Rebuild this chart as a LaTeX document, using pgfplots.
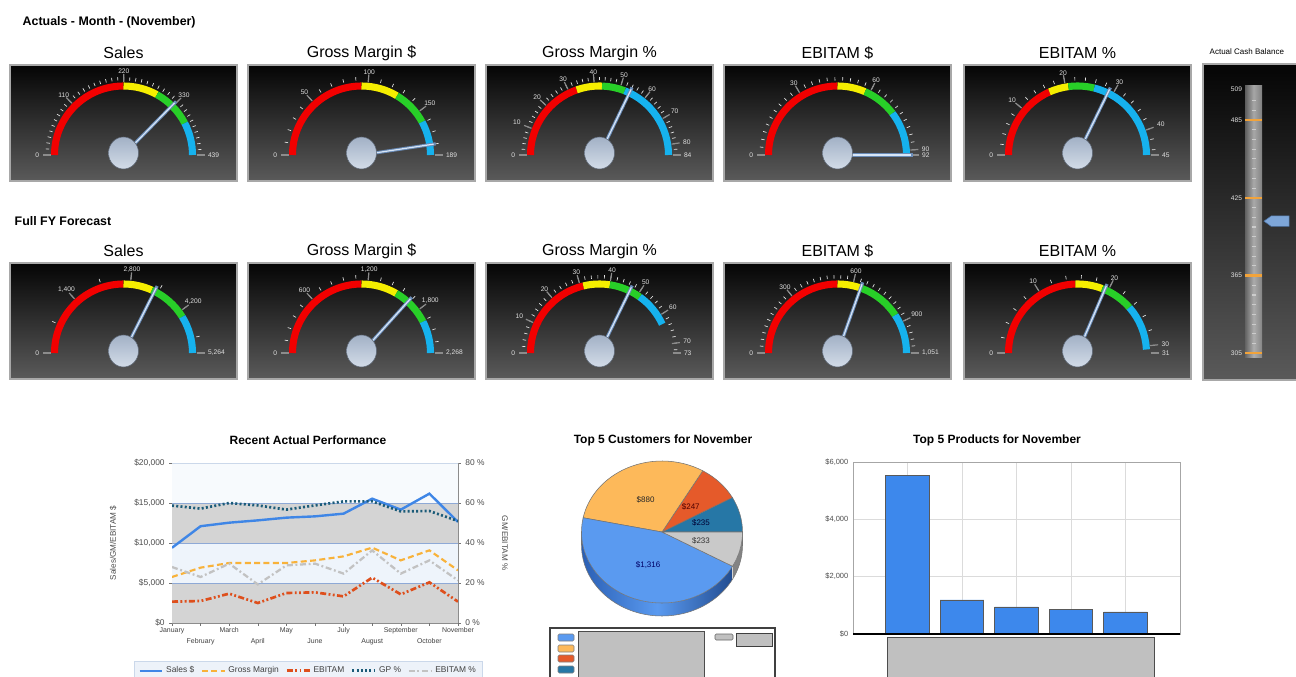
\documentclass[border=0pt]{standalone}
\usepackage{pgfplots}
\pgfplotsset{compat=1.18}
\usepackage{pgfplotstable}
\usepackage{fontspec}
\setmainfont{Liberation Sans}

\definecolor{panelTop}{HTML}{050505}
\definecolor{panelBot}{HTML}{5A5A5A}
\definecolor{panelEdge}{HTML}{A8A8A8}
\definecolor{gRed}{HTML}{F20000}
\definecolor{gYellow}{HTML}{F5EE00}
\definecolor{gGreen}{HTML}{28CF28}
\definecolor{gCyan}{HTML}{16B2EE}
\definecolor{tickGrey}{HTML}{8C8C8C}
\definecolor{needleEdge}{HTML}{6A8CB8}
\definecolor{needleCore}{HTML}{D8E6F7}
\definecolor{hubTop}{HTML}{A2B1C6}
\definecolor{hubBot}{HTML}{D3DCE8}
\definecolor{hubEdge}{HTML}{5E6877}
\definecolor{salesBlue}{HTML}{3F86E6}
\definecolor{gmOrange}{HTML}{F8B23A}
\definecolor{ebRed}{HTML}{DE4F1C}
\definecolor{gpTeal}{HTML}{1B5B78}
\definecolor{ebGrey}{HTML}{C2C2C2}
\definecolor{bandGrey}{HTML}{D4D4D4}
\definecolor{bandLight}{HTML}{EEF4FB}
\definecolor{bandTop}{HTML}{F7FAFD}
\definecolor{gridBlue}{HTML}{8EA9D6}
\definecolor{legFill}{HTML}{EDF2F9}
\definecolor{legDraw}{HTML}{CBD8EA}
\definecolor{barBlue}{HTML}{3D88EC}
\definecolor{pieBlue}{HTML}{5A9AF0}
\definecolor{pieBlueDark}{HTML}{2A5FB4}
\definecolor{pieOrange}{HTML}{FDB95A}
\definecolor{pieRed}{HTML}{E55A2A}
\definecolor{pieTeal}{HTML}{2677A6}
\definecolor{pieGrey}{HTML}{C9C9C9}
\definecolor{boxGrey}{HTML}{C0C0C0}
\definecolor{cashOrange}{HTML}{F2A33A}
\definecolor{ptrBlue}{HTML}{7EA6D8}
\definecolor{ptrEdge}{HTML}{4A6FA0}

\tikzset{
  salesstyle/.style={salesBlue, line width=1.8pt},
  gmstyle/.style={gmOrange, line width=1.6pt, dash pattern=on 4.5pt off 2.5pt},
  ebstyle/.style={ebRed, line width=2pt, dash pattern=on 4.5pt off 1.8pt on 1.4pt off 1.8pt on 1.4pt off 1.8pt},
  gpstyle/.style={gpTeal, line width=2pt, dash pattern=on 1.5pt off 1.7pt},
  ebpstyle/.style={ebGrey, line width=1.7pt, dash pattern=on 4.5pt off 2pt on 1.4pt off 2pt},
}

\pgfdeclareplotmark{cashptr}{%
  \pgfpathmoveto{\pgfqpoint{-9.4pt}{0pt}}%
  \pgfpathlineto{\pgfqpoint{-4pt}{3.9pt}}%
  \pgfpathlineto{\pgfqpoint{9.4pt}{3.9pt}}%
  \pgfpathlineto{\pgfqpoint{9.4pt}{-3.9pt}}%
  \pgfpathlineto{\pgfqpoint{-4pt}{-3.9pt}}%
  \pgfpathclose
  \pgfusepathqfillstroke}

\newcommand{\gaugefont}{\fontsize{5}{5}\selectfont}

% panel, colour bands and minor ticks
% #1 left #2 top #3 max #4 red end #5 yellow end #6 green end #7 arc end #8 minor step #9 last tick
\newcommand{\gaugebase}[9]{%
  \pgfmathsetmacro\gcx{#1+113.5}\pgfmathsetmacro\gcy{#2+90}%
  \shade[top color=panelTop, bottom color=panelBot] (#1,#2) rectangle ++(227,116);
  \draw[panelEdge, line width=1.3pt] (#1,#2) rectangle ++(227,116);
  \begin{scope}[shift={(\gcx,\gcy)}, y=0.75pt]
    \pgfmathsetmacro\aR{180-#4/#3*180}%
    \pgfmathsetmacro\aY{180-#5/#3*180}%
    \pgfmathsetmacro\aG{180-#6/#3*180}%
    \pgfmathsetmacro\aC{180-#7/#3*180}%
    \draw[gRed, line width=5.3pt] (180:69) arc[start angle=180, end angle=\aR, radius=69];
    \draw[gYellow, line width=5.3pt] (\aR:69) arc[start angle=\aR, end angle=\aY, radius=69];
    \draw[gGreen, line width=5.3pt] (\aY:69) arc[start angle=\aY, end angle=\aG, radius=69];
    \draw[gCyan, line width=5.3pt] (\aG:69) arc[start angle=\aG, end angle=\aC, radius=69];
    \foreach \v in {0,#8,...,#9}{%
      \pgfmathsetmacro\ta{180-\v/#3*180}%
      \draw[white!90!black, line width=0.5pt] (\ta:74.5) -- (\ta:78);}
  \end{scope}}

% labels, title, needle (data) and hub
% #1 left #2 top #3 max #4 needle value #5 labels #6 title
\newcommand{\gaugetop}[6]{%
  \pgfmathsetmacro\gcx{#1+113.5}\pgfmathsetmacro\gcy{#2+90}%
  \pgfmathsetmacro\gax{(#1+113.5)*0.75}\pgfmathsetmacro\gay{-(#2+90)*0.75}%
  \node[font=\fontsize{12}{14}\selectfont] at ({#1+113.5},{#2-12}) {#6};
  \begin{scope}[shift={(\gcx,\gcy)}, y=0.75pt]
    \foreach \v/\t in {#5}{%
      \pgfmathsetmacro\ta{180-\v/#3*180}%
      \pgfmathtruncatemacro\an{mod(360-\v/#3*180,360)}%
      \draw[tickGrey, line width=0.9pt] (\ta:73) -- (\ta:81);
      \node[anchor=\an, inner xsep=3.2pt, inner ysep=0.6pt, font=\gaugefont, text=white!88!black] at (\ta:80) {\t};}
  \end{scope}
  \begin{axis}[at={(\gax pt,\gay pt)}, anchor=center, x=0.75pt, y=0.75pt,
      xmin=-100, xmax=100, ymin=-100, ymax=100, hide axis, clip=false]
    \addplot[needleEdge, line width=2.4pt] table[row sep=\\,
      x expr={\thisrow{r}*cos(180-\thisrow{v}/#3*180)},
      y expr={\thisrow{r}*sin(180-\thisrow{v}/#3*180)}] {v r\\ #4 0\\ #4 75\\};
    \addplot[needleCore, line width=0.9pt] table[row sep=\\,
      x expr={\thisrow{r}*cos(180-\thisrow{v}/#3*180)},
      y expr={\thisrow{r}*sin(180-\thisrow{v}/#3*180)}] {v r\\ #4 0\\ #4 73\\};
  \end{axis}
  \shade[top color=hubTop, bottom color=hubBot, draw=hubEdge, line width=0.4pt]
    (\gcx,{\gcy-2}) ellipse [x radius=15, y radius=16];
}

\pgfplotstableread{
m sales gm eb gp ebp
0 9400 5750 2670 58.7 28.0
1 12100 6920 2750 57.2 23.0
2 12540 7500 3670 60.0 29.7
3 12830 7500 2500 58.8 19.3
4 13170 7500 3750 56.7 28.8
5 13330 7830 3830 58.8 29.7
6 13670 8330 3330 60.8 24.7
7 15540 9420 5670 60.8 36.3
8 14170 7830 3580 55.8 24.7
9 16170 9080 5080 56.0 31.3
10 12630 6580 2670 51.0 21.3
}\perfdata

\begin{document}
\begin{tikzpicture}[x=0.75pt, y=-0.75pt]
\useasboundingbox (0,0) rectangle (1296,677);
\clip (0,0) rectangle (1296,677);
\fill[white] (0,0) rectangle (1296,677);

% section headings
\node[anchor=west, font=\bfseries\fontsize{9.3}{11}\selectfont] at (18,22) {Actuals - Month - (November)};
\node[anchor=west, font=\bfseries\fontsize{9.3}{11}\selectfont] at (10,221) {Full FY Forecast};

% ---- actuals row
\gaugebase{10}{65}{439}{219.5}{290}{372}{439}{11}{439}
\gaugetop{10}{65}{439}{328}{0/0,110/110,220/220,330/330,439/439}{Sales}
\gaugebase{248}{65}{189}{94.5}{127}{159}{189}{10}{189}
\gaugetop{248}{65}{189}{180}{0/0,50/50,100/100,150/150,189/189}{Gross Margin \$}
\gaugebase{486}{65}{84}{33}{43}{52}{84}{2}{84}
\gaugetop{486}{65}{84}{54}{0/0,10/10,20/20,30/30,40/40,50/50,60/60,70/70,80/80,84/84}{Gross Margin \%}
\gaugebase{724}{65}{92}{46}{58}{73}{92}{3}{92}
\gaugetop{724}{65}{92}{92}{0/0,30/30,60/60,90/90,92/92}{EBITAM \$}
\gaugebase{964}{65}{45}{16.5}{20.6}{26}{45}{2}{45}
\gaugetop{964}{65}{45}{29}{0/0,10/10,20/20,30/30,40/40,45/45}{EBITAM \%}

% ---- full year forecast row
\gaugebase{10}{263}{5264}{2632}{3340}{4340}{5264}{700}{5264}
\gaugetop{10}{263}{5264}{3413}{0/0,1400/{1,400},2800/{2,800},4200/{4,200},5264/{5,264}}{Sales}
\gaugebase{248}{263}{2268}{1134}{1515}{1928}{2268}{120}{2268}
\gaugetop{248}{263}{2268}{1664}{0/0,600/600,1200/{1,200},1800/{1,800},2268/{2,268}}{Gross Margin \$}
\gaugebase{486}{263}{73}{31}{40}{51}{63}{2}{73}
\gaugetop{486}{263}{73}{47}{0/0,10/10,20/20,30/30,40/40,50/50,60/60,70/70,73/73}{Gross Margin \%}
\gaugebase{724}{263}{1051}{525.5}{646}{857}{1051}{30}{1051}
\gaugetop{724}{263}{1051}{640}{0/0,300/300,600/600,900/900,1051/{1,051}}{EBITAM \$}
\gaugebase{964}{263}{31}{15.2}{19.1}{23.9}{30.5}{2}{31}
\gaugetop{964}{263}{31}{19.5}{0/0,10/10,20/20,30/30,31/31}{EBITAM \%}

% ---- cash balance (vertical gauge)
\node[anchor=west, font=\fontsize{6}{7}\selectfont] at (1205,52) {Actual Cash Balance};
\shade[top color=panelTop, bottom color=panelBot] (1203,64) rectangle (1302,380);
\draw[panelEdge, line width=1.3pt] (1203,64) rectangle (1302,380);
\shade[left color=black!60, right color=black!45, middle color=white!72!black, opacity=0.9]
  (1245,86) rectangle (1262,357);
\foreach \v in {312.5,320,...,505}{%
  \pgfmathsetmacro\yy{353.3-(\v-305)*1.2956}%
  \draw[white!80!black, line width=0.8pt] (1252,\yy) -- (1255.5,\yy);}
\foreach \v in {305,365,425,485}{%
  \pgfmathsetmacro\yy{353.3-(\v-305)*1.2956}%
  \draw[cashOrange, line width=1.6pt] (1245,\yy) -- (1262,\yy);}
\foreach \v in {305,365,425,485,509}{%
  \pgfmathsetmacro\yy{353.3-(\v-305)*1.2956}%
  \node[anchor=east, inner sep=0.5pt, font=\gaugefont, text=white!88!black] at (1243,\yy) {\v};}
\begin{axis}[at={(933.75pt,-264.975pt)}, anchor=south west, scale only axis,
    width=37.5pt, height=198.2pt, xmin=0, xmax=50, ymin=305, ymax=509,
    hide axis, clip=false]
  \addplot[only marks, mark=cashptr, mark options={fill=ptrBlue, draw=ptrEdge, line width=0.4pt}]
    coordinates {(31.5,407)};
\end{axis}

% ---- recent actual performance
\node[font=\bfseries\fontsize{9}{11}\selectfont] at (308,440) {Recent Actual Performance};
\begin{axis}[at={(129pt,-467.25pt)}, anchor=south west, scale only axis,
    width=214.5pt, height=120pt,
    xmin=0, xmax=10, ymin=0, ymax=20000,
    scaled y ticks=false,
    axis x line*=bottom, axis y line*=left,
    axis line style={black!45},
    tick align=outside, major tick length=2pt, tick style={black!55},
    xtick={0,2,4,6,8,10},
    xticklabels={January,March,May,July,September,November},
    extra x ticks={1,3,5,7,9},
    extra x tick labels={February,April,June,August,October},
    extra x tick style={xticklabel style={yshift=-8.3pt}},
    xticklabel style={font=\fontsize{5.2}{6}\selectfont, text=black!75, inner sep=1pt},
    ytick={0,5000,10000,15000,20000},
    yticklabels={\$0,{\$5,000},{\$10,000},{\$15,000},{\$20,000}},
    yticklabel style={font=\fontsize{6.3}{7}\selectfont, text=black!70},
    ylabel={Sales/GM/EBITAM \$},
    ylabel style={at={(axis description cs:-0.206,0.5)}, anchor=center,
      font=\fontsize{6.1}{7}\selectfont, text=black!70},
  ]
  \fill[bandGrey] (axis cs:0,0) rectangle (axis cs:10,5000);
  \fill[bandLight] (axis cs:0,5000) rectangle (axis cs:10,10000);
  \fill[bandGrey] (axis cs:0,10000) rectangle (axis cs:10,15000);
  \fill[bandTop] (axis cs:0,15000) rectangle (axis cs:10,20000);
  \draw[gridBlue, line width=0.5pt] (axis cs:0,5000) -- (axis cs:10,5000);
  \draw[gridBlue, line width=0.5pt] (axis cs:0,10000) -- (axis cs:10,10000);
  \draw[gridBlue, line width=0.5pt] (axis cs:0,15000) -- (axis cs:10,15000);
  \draw[legDraw, line width=0.6pt] (axis cs:0,20000) -- (axis cs:10,20000);
  \addplot[salesstyle] table[x=m, y=sales] {\perfdata};
  \addplot[gmstyle] table[x=m, y=gm] {\perfdata};
  \addplot[ebstyle] table[x=m, y=eb] {\perfdata};
\end{axis}
\begin{axis}[at={(129pt,-467.25pt)}, anchor=south west, scale only axis,
    width=214.5pt, height=120pt,
    xmin=0, xmax=10, ymin=0, ymax=80,
    axis x line=none, axis y line*=right,
    axis line style={black!45},
    tick align=outside, major tick length=2pt, tick style={black!55},
    ytick={0,20,40,60,80},
    yticklabels={0 \%,20 \%,40 \%,60 \%,80 \%},
    yticklabel style={font=\fontsize{6.3}{7}\selectfont, text=black!70},
    ylabel={GM/EBITAM \%},
    ylabel style={at={(axis description cs:1.164,0.5)}, anchor=center, rotate=180,
      font=\fontsize{6.1}{7}\selectfont, text=black!70},
    legend columns=5,
    legend style={at={(0.477,-0.2375)}, anchor=north, fill=legFill, draw=legDraw,
      font=\fontsize{6.3}{7}\selectfont, text=black!75, inner xsep=3pt, inner ysep=2pt,
      /tikz/every even column/.append style={column sep=3pt}},
  ]
  \addlegendimage{salesstyle}\addlegendentry{Sales \$}
  \addlegendimage{gmstyle}\addlegendentry{Gross Margin}
  \addlegendimage{ebstyle}\addlegendentry{EBITAM}
  \addplot[gpstyle] table[x=m, y=gp] {\perfdata};
  \addlegendentry{GP \%}
  \addplot[ebpstyle] table[x=m, y=ebp] {\perfdata};
  \addlegendentry{EBITAM \%}
\end{axis}

% ---- top 5 customers (pie)
\node[font=\bfseries\fontsize{9}{11}\selectfont] at (663,440) {Top 5 Customers for November};
\pgfmathsetmacro\pT{235+247+880+1316+233}
\pgfmathsetmacro\pa{235/\pT*360}
\pgfmathsetmacro\pb{\pa+247/\pT*360}
\pgfmathsetmacro\pc{\pb+880/\pT*360}
\pgfmathsetmacro\pd{\pc+1316/\pT*360}
\begin{scope}[shift={(662,532)}, y=0.75pt]
  \shade[left color=pieBlueDark, right color=pieBlueDark!80!black, middle color=pieBlue]
    (180:80.5 and 71) -- ++(0,-13)
    arc[start angle=180, end angle=\pd, x radius=80.5, y radius=71] -- ++(0,13)
    arc[start angle=\pd, end angle=180, x radius=80.5, y radius=71] -- cycle;
  \fill[pieGrey!65!black]
    (\pd:80.5 and 71) -- ++(0,-13)
    arc[start angle=\pd, end angle=360, x radius=80.5, y radius=71] -- ++(0,13)
    arc[start angle=360, end angle=\pd, x radius=80.5, y radius=71] -- cycle;
  \draw[black!55, line width=0.4pt] (180:80.5 and 71) -- ++(0,-13)
    arc[start angle=180, end angle=360, x radius=80.5, y radius=71] -- ++(0,13);
  \filldraw[fill=pieTeal, draw=black!55, line width=0.4pt] (0,0) -- (0:80.5 and 71)
    arc[start angle=0, end angle=\pa, x radius=80.5, y radius=71] -- cycle;
  \filldraw[fill=pieRed, draw=black!55, line width=0.4pt] (0,0) -- (\pa:80.5 and 71)
    arc[start angle=\pa, end angle=\pb, x radius=80.5, y radius=71] -- cycle;
  \filldraw[fill=pieOrange, draw=black!55, line width=0.4pt] (0,0) -- (\pb:80.5 and 71)
    arc[start angle=\pb, end angle=\pc, x radius=80.5, y radius=71] -- cycle;
  \filldraw[fill=pieBlue, draw=black!55, line width=0.4pt] (0,0) -- (\pc:80.5 and 71)
    arc[start angle=\pc, end angle=\pd, x radius=80.5, y radius=71] -- cycle;
  \filldraw[fill=pieGrey, draw=black!55, line width=0.4pt] (0,0) -- (\pd:80.5 and 71)
    arc[start angle=\pd, end angle=360, x radius=80.5, y radius=71] -- cycle;
  \node[font=\fontsize{6}{7}\selectfont, text=black!80!blue] at ({\pa/2}:40.25 and 35.5) {\$235};
  \node[font=\fontsize{6}{7}\selectfont, text=black!70!red] at ({(\pa+\pb)/2}:40.25 and 35.5) {\$247};
  \node[font=\fontsize{6}{7}\selectfont, text=black!85] at ({(\pb+\pc)/2}:40.25 and 35.5) {\$880};
  \node[font=\fontsize{6}{7}\selectfont, text=black!60!blue] at ({(\pc+\pd)/2}:40.25 and 35.5) {\$1,316};
  \node[font=\fontsize{6}{7}\selectfont, text=black!80] at ({(\pd+360)/2}:40.25 and 35.5) {\$233};
\end{scope}
% pie legend (names hidden)
\draw[black!75, line width=0.8pt, fill=white] (550,628) rectangle (775,684);
\filldraw[fill=pieBlue, draw=black!50, rounded corners=1pt] (558,634) rectangle (574,641);
\filldraw[fill=pieOrange, draw=black!50, rounded corners=1pt] (558,645) rectangle (574,652);
\filldraw[fill=pieRed, draw=black!50, rounded corners=1pt] (558,655) rectangle (574,662);
\filldraw[fill=pieTeal, draw=black!50, rounded corners=1pt] (558,666) rectangle (574,673);
\filldraw[fill=boxGrey, draw=black!70, line width=0.6pt] (578,631) rectangle (704,684);
\filldraw[fill=boxGrey, draw=black!60, rounded corners=1pt] (715,634) rectangle (733,640);
\filldraw[fill=boxGrey, draw=black!75, line width=0.6pt] (736,633) rectangle (772,646);

% ---- top 5 products (bars)
\node[font=\bfseries\fontsize{9}{11}\selectfont] at (997,440) {Top 5 Products for November};
\begin{axis}[at={(639.75pt,-475.5pt)}, anchor=south west, scale only axis,
    width=245.25pt, height=129pt,
    xmin=0, xmax=6, ymin=0, ymax=6000,
    scaled y ticks=false,
    ybar, bar width=0.8,
    xtick={1,2,3,4,5}, xticklabels={},
    ytick={0,2000,4000,6000},
    yticklabels={\$0,{\$2,000},{\$4,000},{\$6,000}},
    yticklabel style={font=\fontsize{5.6}{6}\selectfont, text=black!70},
    xmajorgrids, ymajorgrids, grid style={black!14, line width=0.5pt},
    major tick length=0pt, axis line style={black!35},
  ]
  \addplot[fill=barBlue, draw=black!65, line width=0.5pt]
    coordinates {(1,5533) (2,1191) (3,946) (4,852) (5,770)};
  \draw[black, line width=1pt] (axis cs:0,0) -- (axis cs:6,0);
\end{axis}
\filldraw[fill=boxGrey, draw=black!70, line width=0.6pt] (887,637) rectangle (1154,684);

\end{tikzpicture}
\end{document}
